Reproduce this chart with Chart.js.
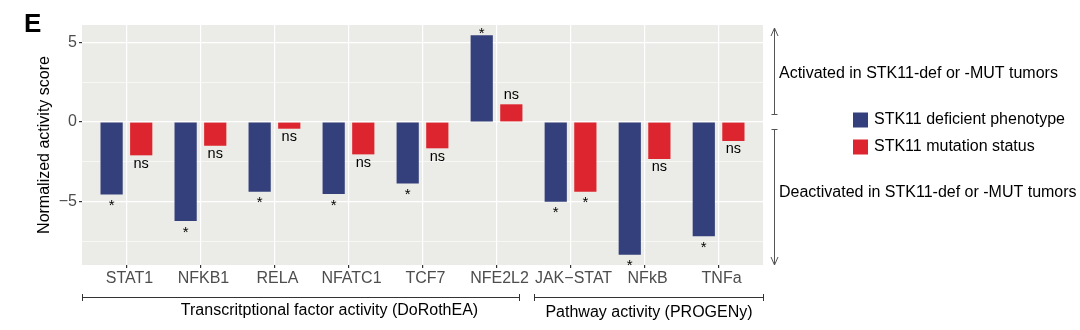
<!DOCTYPE html>
<html>
<head>
<meta charset="utf-8">
<style>
body { margin: 0; background: #fff; }
#wrap { width: 1080px; height: 330px; }
</style>
<script src="https://cdn.jsdelivr.net/npm/chart.js@4.4.1/dist/chart.umd.min.js"></script>
<script type="text/javascript">
// values
var categories = ['STAT1', 'NFKB1', 'RELA', 'NFATC1', 'TCF7', 'NFE2L2', 'JAK\u2212STAT', 'NFkB', 'TNFa'];
var deficientScores = [-4.54, -6.21, -4.37, -4.52, -3.85, 5.44, -5.00, -8.33, -7.16];
var mutationScores  = [-2.09, -1.49, -0.42, -2.03, -1.65, 1.11, -4.37, -2.32, -1.19];
var deficientSig = ['*', '*', '*', '*', '*', '*', '*', '*', '*'];
var mutationSig  = ['ns', 'ns', 'ns', 'ns', 'ns', 'ns', '*', 'ns', 'ns'];
var yTickValues = [-7.5, -5, -2.5, 0, 2.5, 5];
var yTickLabels = ['', '\u22125', '', '0', '', '5'];
var seriesNames = ['STK11 deficient phenotype', 'STK11 mutation status'];
var groupNames = ['Transcritptional factor activity (DoRothEA)', 'Pathway activity (PROGENy)'];
var sideNotes = ['Activated in STK11-def or -MUT tumors', 'Deactivated in STK11-def or -MUT tumors'];

var FONT = "'Liberation Sans', Arial, sans-serif";
var chart;

function toPoints(vals) {
	return vals.map(function (v, i) { return { x: i, y: v }; });
}

var extras = {
	id: 'extras',
	beforeDraw: function (c) {
		var ctx = c.ctx, a = c.chartArea;
		ctx.save();
		ctx.fillStyle = '#fff';
		ctx.fillRect(0, 0, c.width, c.height);
		ctx.fillStyle = '#EBEBE7';
		ctx.fillRect(a.left, a.top, a.right - a.left, a.bottom - a.top);
		ctx.restore();
	},
	afterDraw: function (c) {
		var ctx = c.ctx;
		var xs = c.scales.x, ys = c.scales.y;
		ctx.save();

		// panel letter
		ctx.fillStyle = '#000';
		ctx.font = 'bold 26px ' + FONT;
		ctx.textAlign = 'left';
		ctx.textBaseline = 'alphabetic';
		ctx.fillText('E', 24, 32);

		// y title
		ctx.save();
		ctx.translate(48.5, 145);
		ctx.rotate(-Math.PI / 2);
		ctx.font = '16px ' + FONT;
		ctx.textAlign = 'center';
		ctx.fillText('Normalized activity score', 0, 0);
		ctx.restore();

		// significance labels
		var sigs = [deficientSig, mutationSig];
		c.data.datasets.forEach(function (ds, di) {
			var meta = c.getDatasetMeta(di);
			meta.data.forEach(function (bar, j) {
				var v = ds.data[j].y;
				var end = ys.getPixelForValue(v);
				var txt = sigs[di][j];
				ctx.textAlign = 'center';
				ctx.textBaseline = 'alphabetic';
				ctx.fillStyle = '#000';
				if (txt === '*') {
					ctx.font = '15px ' + FONT;
					ctx.fillText(txt, bar.x, v < 0 ? end + 15.5 : end + 2.5);
				} else {
					ctx.font = '14.5px ' + FONT;
					ctx.fillText(txt, bar.x, v < 0 ? end + 12.5 : end - 5);
				}
			});
		});

		// group brackets under the axis
		ctx.strokeStyle = '#333';
		ctx.lineWidth = 1;
		var spans = [[-0.6, 5.3], [5.5, 8.6]];
		spans.forEach(function (s) {
			var x0 = Math.round(xs.getPixelForValue(s[0])) + 0.5;
			var x1 = Math.round(xs.getPixelForValue(s[1])) + 0.5;
			ctx.beginPath();
			ctx.moveTo(x0, 297.5); ctx.lineTo(x1, 297.5);
			ctx.moveTo(x0, 294); ctx.lineTo(x0, 301);
			ctx.moveTo(x1, 294); ctx.lineTo(x1, 301);
			ctx.stroke();
		});
		ctx.fillStyle = '#000';
		ctx.font = '16px ' + FONT;
		ctx.textAlign = 'center';
		ctx.textBaseline = 'middle';
		ctx.fillText(groupNames[0], 329.5, 311);
		ctx.fillText(groupNames[1], 649, 313);

		// side arrows
		var ax = 774.5;
		ctx.strokeStyle = '#555';
		ctx.beginPath();
		ctx.moveTo(ax, 114); ctx.lineTo(ax, 28);
		ctx.moveTo(ax - 3, 114.5); ctx.lineTo(ax + 3, 114.5);
		ctx.moveTo(ax - 3.5, 36); ctx.lineTo(ax, 28); ctx.lineTo(ax + 3.5, 36);
		ctx.moveTo(ax, 129); ctx.lineTo(ax, 265);
		ctx.moveTo(ax - 3, 129.5); ctx.lineTo(ax + 3, 129.5);
		ctx.moveTo(ax - 3.5, 257); ctx.lineTo(ax, 265); ctx.lineTo(ax + 3.5, 257);
		ctx.stroke();
		ctx.fillStyle = '#000';
		ctx.textAlign = 'left';
		ctx.fillText(sideNotes[0], 779, 74);
		ctx.fillText(sideNotes[1], 779, 193);

		// legend
		c.data.datasets.forEach(function (ds, di) {
			var cy = 120 + di * 27;
			ctx.fillStyle = ds.backgroundColor;
			ctx.fillRect(853, cy - 7.5, 15, 15);
			ctx.fillStyle = '#000';
			ctx.fillText(ds.label, 874, cy);
		});

		ctx.restore();
	}
};

document.addEventListener('DOMContentLoaded', function () {
	var ctx = document.getElementById('myChart');
	chart = new Chart(ctx, {
		type: 'bar',
		data: {
			datasets: [{
				label: seriesNames[0],
				data: toPoints(deficientScores),
				backgroundColor: '#34407B',
				borderWidth: 0,
				categoryPercentage: 0.8,
				barPercentage: 0.75
			}, {
				label: seriesNames[1],
				data: toPoints(mutationScores),
				backgroundColor: '#DC252E',
				borderWidth: 0,
				categoryPercentage: 0.8,
				barPercentage: 0.75
			}]
		},
		options: {
			responsive: false,
			devicePixelRatio: 1,
			animation: false,
			layout: { padding: { left: 0, top: 25, right: 317, bottom: 0 } },
			plugins: {
				legend: { display: false },
				tooltip: { enabled: false }
			},
			scales: {
				x: {
					type: 'linear',
					min: -0.6,
					max: 8.6,
					offset: false,
					border: { display: false },
					grid: {
						offset: false,
						color: '#fff',
						lineWidth: 1.2,
						tickColor: '#333',
						tickLength: 3
					},
					ticks: {
						autoSkip: false,
						maxRotation: 0,
						padding: 1,
						labelOffset: 3,
						color: '#4D4D4D',
						font: { family: FONT, size: 16 },
						callback: function (v) { return categories[v]; }
					},
					afterBuildTicks: function (s) {
						s.ticks = categories.map(function (c, i) { return { value: i }; });
					},
					afterFit: function (s) { s.height = 65; }
				},
				y: {
					min: -8.97,
					max: 6.085,
					border: { display: false },
					grid: {
						color: '#fff',
						lineWidth: function (c) { return c.tick && c.tick.value % 5 === 0 ? 1.2 : 0.6; },
						tickColor: function (c) { return c.tick && c.tick.value % 5 === 0 ? '#333' : 'rgba(0,0,0,0)'; },
						tickLength: 3
					},
					ticks: {
						padding: 2,
						color: '#4D4D4D',
						font: { family: FONT, size: 16 },
						callback: function (v) {
							var k = yTickValues.indexOf(v);
							return k < 0 ? '' : yTickLabels[k];
						}
					},
					afterBuildTicks: function (s) {
						s.ticks = yTickValues.map(function (v) { return { value: v }; });
					},
					afterFit: function (s) { s.width = 82; }
				}
			}
		},
		plugins: [extras]
	});
});
</script>
</head>
<body>
<div id="wrap">
	<canvas id="myChart" width="1080" height="330"></canvas>
</div>
</body>
</html>
